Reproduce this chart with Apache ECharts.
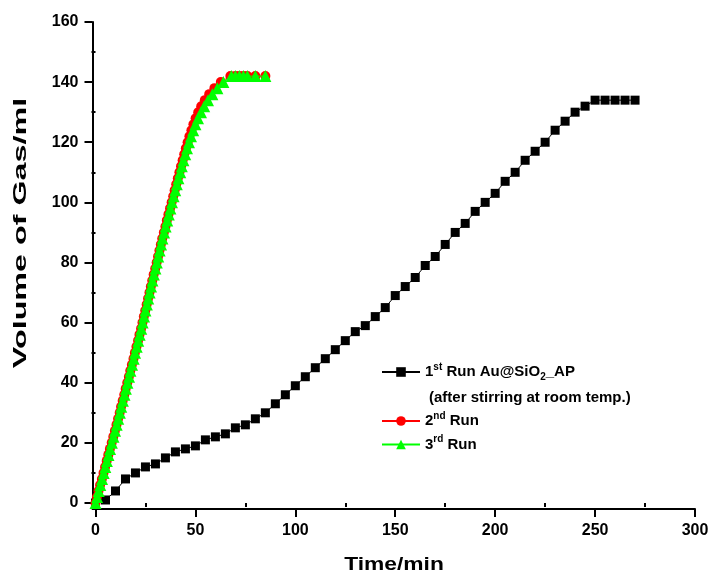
<!DOCTYPE html>
<html>
<head>
<meta charset="utf-8">
<script src="https://cdn.jsdelivr.net/npm/echarts@6/dist/echarts.min.js"></script>
<style>
html,body{margin:0;padding:0;background:#fff;}
#chart{width:712px;height:578px;}
</style>
</head>
<body>
<div id="chart"></div>
<script>
// ---- Data ----
var blackTime = [0,5,10,15,20,25,30,35,40,45,50,55,60,65,70,75,80,85,90,95,100,105,110,115,120,125,130,135,140,145,150,155,160,165,170,175,180,185,190,195,200,205,210,215,220,225,230,235,240,245,250,255,260,265,270];
var blackVol  = [0,1,4,8,10,12,13,15,17,18,19,21,22,23,25,26,28,30,33,36,39,42,45,48,51,54,57,59,62,65,69,72,75,79,82,86,90,93,97,100,103,107,110,114,117,120,124,127,130,132,134,134,134,134,134];

var redTime = [0,0.7,1.5,2.3,3.2,4.0,4.8,5.6,6.4,7.2,8.1,8.9,9.7,10.5,11.3,12.1,12.8,13.6,14.4,15.1,15.9,16.7,17.4,18.2,19.0,19.7,20.5,21.3,22.0,22.8,23.5,24.2,24.9,25.6,26.3,27.0,27.7,28.4,29.1,29.9,30.6,31.3,32.0,32.7,33.4,34.2,35.0,35.7,36.5,37.3,38.1,38.9,39.6,40.4,41.2,42.0,42.8,43.6,44.4,45.2,46.1,47.0,48.0,49.0,50.1,51.4,52.9,54.7,56.9,59.5,62.7,67.5,70,72,74,76,80,85];
var redVol  = [0,2,4,6,8,10,12,14,16,18,20,22,24,26,28,30,32,34,36,38,40,42,44,46,48,50,52,54,56,58,60,62,64,66,68,70,72,74,76,78,80,82,84,86,88,90,92,94,96,98,100,102,104,106,108,110,112,114,116,118,120,122,124,126,128,130,132,134,136,138,140,142,142,142,142,142,142,142];

var greenTime = [0,0.8,1.6,2.4,3.3,4.1,4.9,5.7,6.5,7.3,8.2,9.0,9.8,10.6,11.4,12.2,12.9,13.7,14.5,15.2,16.0,16.8,17.5,18.3,19.1,19.8,20.6,21.4,22.1,22.9,23.6,24.3,25.0,25.7,26.4,27.1,27.8,28.5,29.2,30.0,30.7,31.4,32.1,32.8,33.5,34.3,35.1,35.9,36.7,37.5,38.3,39.1,39.9,40.7,41.5,42.4,43.2,44.0,44.9,45.8,46.8,47.8,48.9,50.0,51.3,52.8,54.4,56.3,58.5,61.0,64.0,68.0,70,72,74,76,80,85];
var greenVol  = [0,2,4,6,8,10,12,14,16,18,20,22,24,26,28,30,32,34,36,38,40,42,44,46,48,50,52,54,56,58,60,62,64,66,68,70,72,74,76,78,80,82,84,86,88,90,92,94,96,98,100,102,104,106,108,110,112,114,116,118,120,122,124,126,128,130,132,134,136,138,140,142,142,142,142,142,142,142];

var xMajorTicks = [0,50,100,150,200,250,300];
var xMinorTicks = [25,75,125,175,225,275];
var yMajorTicks = [0,20,40,60,80,100,120,140,160];
var yMinorTicks = [10,30,50,70,90,110,130,150];

var seriesNames = ['1st Run', '2nd Run', '3rd Run'];
var xTitle = 'Time/min';
var yTitle = 'Volume of Gas/ml';
var legendNote = '(after stirring at room temp.)';

// ---- Chart ----
var FONT = '"Liberation Sans", Arial, sans-serif';
function pairs(t, v) { return t.map(function (x, i) { return [x, v[i]]; }); }

var chart = echarts.init(document.getElementById('chart'), null, {renderer: 'canvas'});

var legendText = {
  fontFamily: FONT, fontSize: 15, fontWeight: 'bold', color: '#000',
  rich: {
    a: {fontFamily: FONT, fontSize: 15, fontWeight: 'bold', color: '#000', lineHeight: 20},
    s: {fontFamily: FONT, fontSize: 10, fontWeight: 'bold', color: '#000', lineHeight: 13, verticalAlign: 'top'},
    b: {fontFamily: FONT, fontSize: 10, fontWeight: 'bold', color: '#000', lineHeight: 9, verticalAlign: 'bottom'}
  }
};
function legendFormatter(name) {
  if (name === '1st Run') return '{a|1}{s|st}{a| Run Au@SiO}{b|2}{a|_AP}';
  if (name === '2nd Run') return '{a|2}{s|nd}{a| Run}';
  return '{a|3}{s|rd}{a| Run}';
}

var axisLineStyle = {color: '#000', width: 2};

var option = {
  animation: false,
  backgroundColor: '#fff',
  grid: {left: 92.5, right: 17, top: 22, bottom: 69, containLabel: false},
  xAxis: [{
    type: 'value', min: -1.5, max: 300,
    axisLine: {show: true, onZero: false, lineStyle: axisLineStyle},
    axisTick: {show: true, inside: false, length: 8, lineStyle: {color: '#000', width: 2}, customValues: xMajorTicks},
    axisLabel: {show: true, margin: 14, customValues: xMajorTicks, fontFamily: FONT, fontSize: 16, fontWeight: 'bold', color: '#000'},
    splitLine: {show: false}
  }, {
    type: 'value', min: -1.5, max: 300, position: 'bottom',
    axisLine: {show: false},
    axisTick: {show: true, inside: false, length: 4, lineStyle: {color: '#000', width: 2}, customValues: xMinorTicks},
    axisLabel: {show: false},
    splitLine: {show: false}
  }],
  yAxis: [{
    type: 'value', min: -2, max: 160,
    axisLine: {show: true, onZero: false, lineStyle: axisLineStyle},
    axisTick: {show: true, inside: false, length: 8, lineStyle: {color: '#000', width: 2}, customValues: yMajorTicks},
    axisLabel: {show: true, margin: 14, customValues: yMajorTicks, fontFamily: FONT, fontSize: 16, fontWeight: 'bold', color: '#000'},
    splitLine: {show: false}
  }, {
    type: 'value', min: -2, max: 160, position: 'left',
    axisLine: {show: false},
    axisTick: {show: true, inside: false, length: 4, lineStyle: {color: '#000', width: 2}, customValues: yMinorTicks},
    axisLabel: {show: false},
    splitLine: {show: false}
  }],
  legend: [{
    data: [seriesNames[0]], orient: 'vertical', left: 376, top: 357,
    itemWidth: 38, itemHeight: 12, itemGap: 8,
    formatter: legendFormatter, textStyle: legendText, selectedMode: false
  }, {
    data: [seriesNames[1], seriesNames[2]], orient: 'vertical', left: 376, top: 406,
    itemWidth: 38, itemHeight: 12, itemGap: 6,
    formatter: legendFormatter, textStyle: legendText, selectedMode: false
  }],
  graphic: [{
    type: 'text', left: 429, top: 390,
    style: {text: legendNote, font: 'bold 15px ' + FONT, fill: '#000'}
  }, {
    type: 'text', x: 21, y: 233, rotation: Math.PI / 2, scaleX: 1.7, scaleY: 1,
    style: {text: yTitle, font: 'bold 19px ' + FONT, fill: '#000', align: 'center', verticalAlign: 'middle'}
  }, {
    type: 'text', x: 394, y: 565, scaleX: 1.2, scaleY: 1,
    style: {text: xTitle, font: 'bold 19px ' + FONT, fill: '#000', align: 'center', verticalAlign: 'middle'}
  }],
  series: [{
    name: seriesNames[0], type: 'line', xAxisIndex: 0, yAxisIndex: 0,
    data: pairs(blackTime, blackVol),
    symbol: 'rect', symbolSize: 9,
    lineStyle: {color: '#000', width: 1}, itemStyle: {color: '#000'},
    z: 2
  }, {
    name: seriesNames[1], type: 'line', xAxisIndex: 0, yAxisIndex: 0,
    data: pairs(redTime, redVol),
    symbol: 'circle', symbolSize: 10,
    lineStyle: {color: '#ff0000', width: 1}, itemStyle: {color: '#ff0000'},
    z: 3
  }, {
    name: seriesNames[2], type: 'line', xAxisIndex: 0, yAxisIndex: 0,
    data: pairs(greenTime, greenVol),
    symbol: 'triangle', symbolSize: 12,
    lineStyle: {color: '#00ff00', width: 1}, itemStyle: {color: '#00ff00'},
    z: 4
  }]
};
chart.setOption(option);
</script>
</body>
</html>
